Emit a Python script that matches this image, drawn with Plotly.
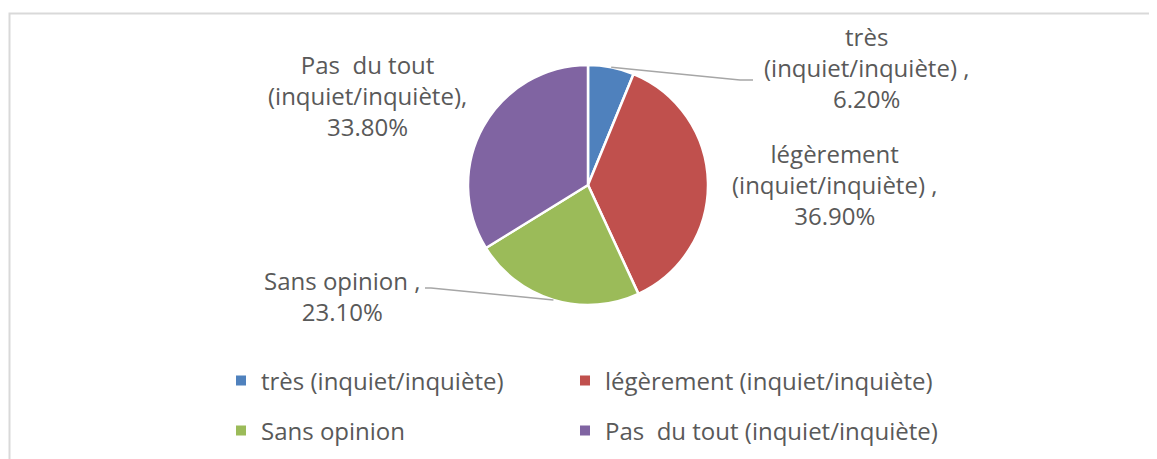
import math
import plotly.graph_objects as go

# ---- data ----
categories = ["très (inquiet/inquiète)", "légèrement (inquiet/inquiète)",
              "Sans opinion", "Pas \u00a0du tout (inquiet/inquiète)"]
values = [6.2, 36.9, 23.1, 33.8]
label_names = ["très<br>(inquiet/inquiète) ,", "légèrement<br>(inquiet/inquiète) ,",
               "Sans opinion ,", "Pas \u00a0du tout<br>(inquiet/inquiète),"]
colors = ["#4F81BD", "#C0504D", "#9BBB59", "#8064A2"]

W, H = 1157, 459
OFF = 8  # page body margin
CX, CY, R = 588, 185, 120
FONT = "Open Sans"
TXT = "#595959"
FS = 24


def px(x):
    return (x - OFF) / W


def py(y):
    return 1 - (y - OFF) / H


fig = go.Figure()
fig.add_trace(go.Pie(
    labels=categories, values=values, sort=False, direction="clockwise",
    rotation=0, marker=dict(colors=colors, line=dict(color="white", width=2.5)),
    textinfo="none", hoverinfo="label+percent", showlegend=False,
    domain=dict(x=[px(CX - R), px(CX + R)], y=[py(CY + R), py(CY - R)]),
))

# legend entries (two rows, two columns) -> one legend per entry
leg_names = ["legend", "legend2", "legend3", "legend4"]
for i, (c, col) in enumerate(zip(categories, colors)):
    fig.add_trace(go.Scatter(
        x=[None], y=[None], mode="markers", name=c,
        marker=dict(symbol="square", size=10, color=col),
        legend=leg_names[i],
    ))

# slice mid-angles (clockwise from 12 o'clock)
total = sum(values)
mids = []
acc = 0
for v in values:
    mids.append((acc + v / 2) / total * 2 * math.pi)
    acc += v


def edge(i):
    a = mids[i]
    return CX + R * math.sin(a), CY - R * math.cos(a)


# data labels
label_pos = [(866, 68), (834, 184), (342, 296), (367, 95)]
for i, (name, v) in enumerate(zip(label_names, values)):
    x, y = label_pos[i]
    fig.add_annotation(
        x=px(x), y=py(y), xref="paper", yref="paper", showarrow=False,
        xanchor="center", yanchor="middle",
        text=f"{name}<br>{v:.2f}%", align="center",
        font=dict(family=FONT, size=FS, color=TXT),
    )

# leader lines
shapes = []
ex, ey = edge(0)
shapes.append(dict(type="path", xref="paper", yref="paper",
                   path=f"M {px(ex)} {py(ey)} L {px(740)} {py(80)} L {px(753)} {py(80)}",
                   line=dict(color="#A6A6A6", width=1.5)))
ex, ey = edge(2)
shapes.append(dict(type="path", xref="paper", yref="paper",
                   path=f"M {px(ex)} {py(ey)} L {px(431)} {py(288)} L {px(425)} {py(288)}",
                   line=dict(color="#A6A6A6", width=1.5)))
# chart frame
shapes.append(dict(type="rect", xref="paper", yref="paper",
                   x0=px(9.5), x1=px(W + 20), y0=py(H + 20), y1=py(13.5),
                   line=dict(color="#D9D9D9", width=2)))

leg_common = dict(orientation="h", xanchor="left", yanchor="middle",
                  font=dict(family=FONT, size=FS, color=TXT),
                  itemwidth=30, bgcolor="rgba(0,0,0,0)")
leg_pos = [(221, 381), (565, 381), (221, 431), (565, 431)]
layout_legends = {}
for name, (x, y) in zip(leg_names, leg_pos):
    layout_legends[name] = dict(x=px(x), y=py(y), **leg_common)

fig.update_layout(
    width=W, height=H, margin=dict(l=0, r=0, t=0, b=0),
    paper_bgcolor="white", plot_bgcolor="white",
    shapes=shapes,
    xaxis=dict(visible=False), yaxis=dict(visible=False),
    **layout_legends,
)

fig.write_html("out.html")
